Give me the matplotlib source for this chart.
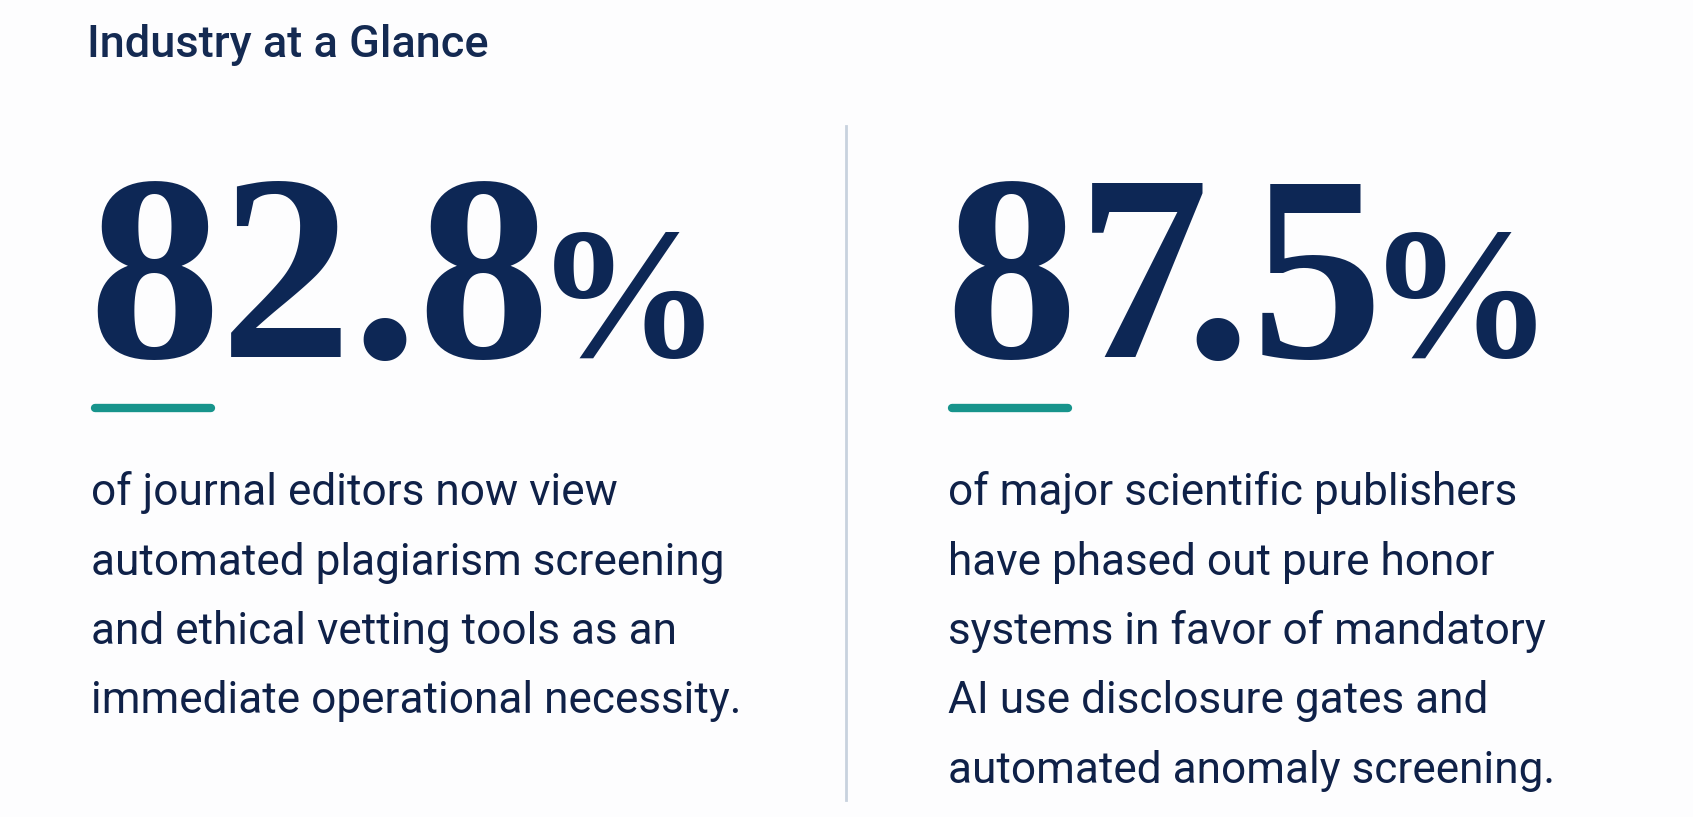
import matplotlib
matplotlib.use("Agg")
import matplotlib.pyplot as plt

# data
title = "Industry at a Glance"
stat_values = [82.8, 87.5]
stat_lines = [
    ["of journal editors now view",
     "automated plagiarism screening",
     "and ethical vetting tools as an",
     "immediate operational necessity."],
    ["of major scientific publishers",
     "have phased out pure honor",
     "systems in favor of mandatory",
     "AI use disclosure gates and",
     "automated anomaly screening."],
]

NAVY = "#0d2755"
TEXT = "#0f2148"
TEAL = "#17948c"
DIVIDER = "#c8d2de"

# big figures go through mathtext so the point can tuck under the 7
plt.rcParams["mathtext.fontset"] = "custom"
for k in ("rm", "it", "bf"):
    plt.rcParams[f"mathtext.{k}"] = "Liberation Serif:bold"
plt.rcParams["mathtext.default"] = "rm"
KERN = {("7", "."): -0.11}


def as_math(s):
    out = s[0]
    for a, b in zip(s, s[1:]):
        if (a, b) in KERN:
            out += r"\hspace{%.3f}" % KERN[(a, b)]
            if b == ".":
                # mathtext pads a point that isn't between digits
                out += "." + r"\hspace{-0.2}"
                continue
        out += b
    return "$" + out + "$"


W, H = 1693, 817
fig = plt.figure(figsize=(W / 100, H / 100), dpi=100)
fig.patch.set_facecolor("#fdfdfe")
ax = fig.add_axes([0, 0, 1, 1])
ax.set_xlim(0, W)
ax.set_ylim(H, 0)
ax.axis("off")

ax.text(87, 57, title, fontsize=32.5, fontfamily="Roboto", fontweight="medium",
        color="#142a52", va="baseline", ha="left")

inv = ax.transData.inverted()
big = dict(fontfamily="Liberation Serif", fontweight="bold", color=NAVY,
           va="baseline", ha="left")

col_x = [92, 949]
for i, (val, lines) in enumerate(zip(stat_values, stat_lines)):
    x = col_x[i]
    num = ax.text(x - 4, 357, as_math(f"{val:.1f}"), fontsize=190, **big)
    fig.canvas.draw()
    end = num.get_window_extent().transformed(inv).x1
    ax.text(end - 8, 357, "%", fontsize=134, **big)
    ax.plot([x + 3, x + 119], [408, 408], color=TEAL, lw=6, solid_capstyle="round")
    for j, line in enumerate(lines):
        ax.text(x - 1, 505 + j * 69.5, line, fontsize=31.8, fontfamily="Roboto",
                color=TEXT, va="baseline", ha="left")

ax.plot([846, 846], [126, 800], color=DIVIDER, lw=2)

fig.savefig("out.png", dpi=100, facecolor=fig.get_facecolor())
